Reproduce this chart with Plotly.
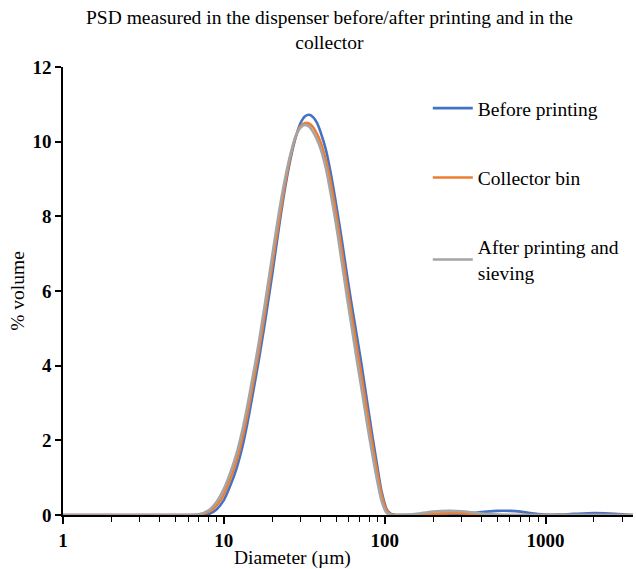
import plotly.graph_objects as go

diam = [1, 2, 4, 6, 7, 8, 9, 10, 11, 12, 13, 14, 15, 16.5, 18, 20, 22, 24, 26, 28, 30, 32, 34, 36, 38,
        40, 43, 46, 50, 54, 58, 62, 67, 72, 78, 84, 90, 96, 103, 110, 120, 140, 170, 200, 250, 300,
        350, 400, 500, 600, 700, 850, 1000, 1200, 1500, 2000, 2500, 3000, 3500]

before = [0, 0, 0, 0, 0, 0.02, 0.15, 0.4, 0.8, 1.25, 1.8, 2.45, 3.15, 4.15, 5.15, 6.45, 7.7, 8.75, 9.55,
          10.12, 10.5, 10.68, 10.72, 10.65, 10.5, 10.25, 9.8, 9.2, 8.3, 7.4, 6.5, 5.7, 4.82, 4.0, 3.0,
          2.1, 1.3, 0.6, 0.15, 0.02, 0, 0, 0, 0, 0, 0.02, 0.05, 0.08, 0.11, 0.11, 0.09, 0.04, 0.01,
          0.01, 0.03, 0.05, 0.04, 0.02, 0]

collector = [0, 0, 0, 0, 0.01, 0.08, 0.25, 0.55, 0.98, 1.45, 2.03, 2.68, 3.38, 4.38, 5.4, 6.7, 7.85,
             8.85, 9.62, 10.14, 10.42, 10.5, 10.48, 10.38, 10.2, 9.98, 9.52, 8.95, 8.05, 7.12, 6.22,
             5.42, 4.52, 3.7, 2.75, 1.88, 1.15, 0.52, 0.12, 0.01, 0, 0, 0.01, 0.03, 0.05, 0.05, 0.03,
             0.01, 0, 0, 0, 0, 0, 0, 0, 0, 0, 0, 0]

after = [0, 0, 0, 0, 0.02, 0.12, 0.35, 0.7, 1.15, 1.65, 2.25, 2.92, 3.62, 4.62, 5.65, 6.95, 8.1, 9.0,
         9.68, 10.15, 10.38, 10.45, 10.4, 10.25, 10.05, 9.8, 9.3, 8.65, 7.75, 6.8, 5.9, 5.1, 4.17,
         3.35, 2.4, 1.6, 0.9, 0.35, 0.05, 0, 0, 0.01, 0.05, 0.09, 0.11, 0.1, 0.07, 0.04, 0.01, 0, 0,
         0, 0, 0, 0, 0, 0, 0, 0]

names = ["Before printing", "Collector bin", "After printing and<br>sieving"]
colors = ["#4472C4", "#ED7D31", "#A5A5A5"]
series = [before, collector, after]

x_tickvals = [1, 10, 100, 1000]
x_ticktext = ["<b>1</b>", "<b>10</b>", "<b>100</b>", "<b>1000</b>"]
y_tickvals = [0, 2, 4, 6, 8, 10, 12]
y_ticktext = ["<b>0</b>", "<b>2</b>", "<b>4</b>", "<b>6</b>", "<b>8</b>", "<b>10</b>", "<b>12</b>"]

FONT = "Liberation Serif, Times New Roman, serif"

fig = go.Figure()
for i, (nm, col, ys) in enumerate(zip(names, colors, series)):
    fig.add_trace(go.Scatter(
        x=diam, y=ys, name=nm, mode="lines",
        line=dict(color=col, width=2.6, shape="spline", smoothing=0.8),
        legendgroup=f"g{i}",
    ))

fig.add_annotation(
    text="PSD measured in the dispenser before/after printing and in the<br>collector",
    xref="paper", yref="paper", x=0.468, y=1 + 12 / 448, xanchor="center", yanchor="bottom",
    showarrow=False, font=dict(family=FONT, size=19.5, color="black"),
)
fig.add_annotation(
    text="Diameter (µm)",
    xref="paper", yref="paper", x=(292 - 63) / 570, y=-(558 - 515) / 448,
    xanchor="center", yanchor="middle",
    showarrow=False, font=dict(family=FONT, size=19.5, color="black"),
)

fig.update_layout(
    width=636, height=569,
    margin=dict(l=63, r=3, t=67, b=54),
    paper_bgcolor="white", plot_bgcolor="white",
    font=dict(family=FONT, color="black"),
    showlegend=True,
    legend=dict(
        x=0.64, y=0.951, xanchor="left", yanchor="top",
        font=dict(family=FONT, size=19.5, color="black"),
        bgcolor="rgba(0,0,0,0)", tracegroupgap=41,
        itemwidth=40,
    ),
    xaxis=dict(
        type="log", range=[0, 3.544],
        showline=True, linecolor="black", linewidth=1.5,
        ticks="outside", ticklen=7, tickcolor="black", tickwidth=1.5,
        showgrid=False, zeroline=False,
        tickfont=dict(family=FONT, size=19, color="black"),
        tickvals=x_tickvals, ticktext=x_ticktext,
        minor=dict(ticks="outside", ticklen=5, tickcolor="black", tickwidth=1.2,
                   tickvals=[2, 3, 4, 5, 6, 7, 8, 9, 20, 30, 40, 50, 60, 70, 80, 90,
                             200, 300, 400, 500, 600, 700, 800, 900, 2000, 3000], showgrid=False),
    ),
    yaxis=dict(
        range=[0, 12],
        showline=True, linecolor="black", linewidth=1.5,
        ticks="outside", ticklen=6, tickcolor="black", tickwidth=1.5,
        showgrid=False, zeroline=False,
        tickvals=y_tickvals, ticktext=y_ticktext,
        tickfont=dict(family=FONT, size=19, color="black"),
        title=dict(text="% volume", font=dict(family=FONT, size=19.5, color="black"), standoff=3),
    ),
)

fig.write_html("out.html", config={"displayModeBar": False},
               post_script="document.body.style.margin='0';")
